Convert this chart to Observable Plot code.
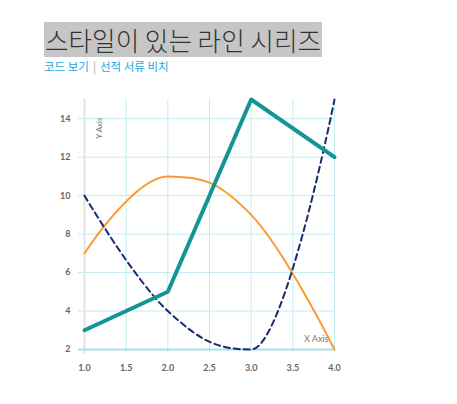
<!DOCTYPE html>
<html><head><meta charset="utf-8">
<script src="https://cdn.jsdelivr.net/npm/d3@7"></script>
<script src="https://cdn.jsdelivr.net/npm/@observablehq/plot@0.6"></script>
<style>
body{margin:0;background:#fff;width:457px;height:404px;position:relative;overflow:hidden;font-family:"Noto Sans CJK KR","Noto Sans",sans-serif}
#title{position:absolute;left:44px;top:22px;height:35px;line-height:35px;background:#c6c6c6;color:#333;font-size:25.6px;font-weight:300;padding:0 1px;white-space:nowrap}
#sub{position:absolute;left:44px;top:58px;font-size:11.5px;line-height:16px;color:#1ba8de;white-space:nowrap}
#sub .sep{color:#aaa;margin:0 4px}
#chart{position:absolute;left:0;top:80px}
</style></head><body>
<div id="title"></div>
<div id="sub"><span id="l1"></span><span class="sep">|</span><span id="l2"></span></div>
<div id="chart"></div>
<script>
const titleText = "스타일이 있는 라인 시리즈";
const links = ["코드 보기", "선적 서류 비치"];
const xs = [1, 2, 3, 4];
const tealVals = [3, 5, 15, 12];
const orangeVals = [7, 11, 9, 2];
const navyVals = [10, 4, 2, 15];
const xTicks = [1, 1.5, 2, 2.5, 3, 3.5, 4];
const yTicks = [2, 4, 6, 8, 10, 12, 14];
const xLabel = "X Axis", yLabel = "Y Axis";

document.getElementById("title").textContent = titleText;
document.getElementById("l1").textContent = links[0];
document.getElementById("l2").textContent = links[1];

const toRows = v => xs.map((x, i) => ({x, y: v[i]}));
const teal = toRows(tealVals), orange = toRows(orangeVals), navy = toRows(navyVals);

// spline curve with control points clamped to avoid false extremes
function splineCurve(context) {
  let pts = [];
  return {
    areaStart() {}, areaEnd() {},
    lineStart() { pts = []; },
    point(x, y) { pts.push([+x, +y]); },
    lineEnd() {
      const n = pts.length;
      if (!n) return;
      const s = 1.5, den = s + 1;
      const L = [], R = [];
      for (let i = 0; i < n; i++) {
        const [px, py] = pts[i];
        if (i > 0 && i < n - 1) {
          const [lx, ly] = pts[i - 1], [nx, ny] = pts[i + 1];
          let lcx = (s * px + lx) / den, lcy = (s * py + ly) / den;
          let rcx = (s * px + nx) / den, rcy = (s * py + ny) / den;
          let c = 0;
          if (rcx !== lcx) c = ((rcy - lcy) * (rcx - px)) / (rcx - lcx) + py - rcy;
          lcy += c; rcy += c;
          if (lcy > ly && lcy > py) { lcy = Math.max(ly, py); rcy = 2 * py - lcy; }
          else if (lcy < ly && lcy < py) { lcy = Math.min(ly, py); rcy = 2 * py - lcy; }
          if (rcy > ny && rcy > py) { rcy = Math.max(ny, py); lcy = 2 * py - rcy; }
          else if (rcy < ny && rcy < py) { rcy = Math.min(ny, py); lcy = 2 * py - rcy; }
          L[i] = [lcx, lcy]; R[i] = [rcx, rcy];
        } else { L[i] = [px, py]; R[i] = [px, py]; }
      }
      context.moveTo(pts[0][0], pts[0][1]);
      for (let i = 1; i < n; i++) {
        context.bezierCurveTo(R[i - 1][0], R[i - 1][1], L[i][0], L[i][1], pts[i][0], pts[i][1]);
      }
    }
  };
}

const chart = Plot.plot({
  width: 457, height: 310,
  marginLeft: 84, marginRight: 123, marginTop: 19, marginBottom: 41,
  style: {fontFamily: "Lato, 'Open Sans', sans-serif", background: "transparent"},
  x: {domain: [1, 4]},
  y: {domain: [2, 15]},
  marks: [
    Plot.ruleX(xTicks, {stroke: "#c2edf2", strokeWidth: 1, insetBottom: -4}),
    Plot.ruleY(yTicks, {stroke: "#c2edf2", strokeWidth: 1, insetLeft: -6}),
    Plot.ruleX([1], {stroke: "#e2e2e2", strokeWidth: 2, insetBottom: -4}),
    Plot.ruleY([2], {stroke: "#a8dfe3", strokeWidth: 2, insetLeft: -6}),
    Plot.axisX(xTicks, {tickSize: 0, tickPadding: 15, tickFormat: d => d.toFixed(1), fontSize: 9, fontWeight: "bold", fill: "#666", label: null}),
    Plot.axisY(yTicks, {tickSize: 0, tickPadding: 14, fontSize: 9, fontWeight: "bold", fill: "#666", label: null}),
    Plot.line(orange, {x: "x", y: "y", stroke: "#ff9933", strokeWidth: 2, curve: splineCurve}),
    Plot.line(navy, {x: "x", y: "y", stroke: "#1b2a6b", strokeWidth: 2, strokeDasharray: "6,4", curve: splineCurve}),
    Plot.line(teal, {x: "x", y: "y", stroke: "#149494", strokeWidth: 4}),
    Plot.text([yLabel], {frameAnchor: "top-left", rotate: -90, textAnchor: "end", dx: 12, dy: 18, fontSize: 8, fill: "#777"}),
    Plot.text([xLabel], {frameAnchor: "bottom-right", textAnchor: "end", dx: -6, dy: -8, fontSize: 9, fill: "#777"})
  ]
});
document.getElementById("chart").appendChild(chart);
</script>
</body></html>
